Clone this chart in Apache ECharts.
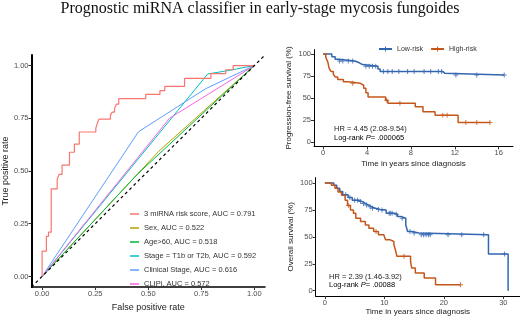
<!DOCTYPE html>
<html>
<head>
<meta charset="utf-8">
<script src="https://cdn.jsdelivr.net/npm/echarts@6/dist/echarts.min.js"></script>
<style>html,body{margin:0;padding:0;background:#fff}#main{width:520px;height:317px}</style>
</head>
<body>
<div id="main"></div>
<script>
// ---- ROC panel: [false positive rate, true positive rate]
var rocNames = ['3 miRNA risk score, AUC = 0.791', 'Sex, AUC = 0.522', 'Age>60, AUC = 0.518',
  'Stage = T1b or T2b, AUC = 0.592', 'Clinical Stage, AUC = 0.616', 'CLIPi, AUC = 0.572'];
var rocColors = ['#F8766D', '#B79F00', '#00BA38', '#00BFC4', '#619CFF', '#F564E3'];
var rocRisk = [[0,0],[0,0.12],[0.02,0.12],[0.02,0.19],[0.03,0.19],[0.03,0.21],[0.043,0.21],[0.043,0.415],
  [0.071,0.415],[0.071,0.46],[0.08,0.46],[0.08,0.484],[0.094,0.484],[0.094,0.528],[0.129,0.528],[0.129,0.589],
  [0.152,0.589],[0.152,0.627],[0.175,0.627],[0.175,0.685],[0.253,0.685],[0.253,0.703],[0.26,0.703],[0.26,0.726],
  [0.268,0.726],[0.268,0.746],[0.322,0.746],[0.322,0.765],[0.33,0.765],[0.33,0.779],[0.341,0.779],[0.341,0.795],
  [0.35,0.795],[0.35,0.817],[0.361,0.817],[0.361,0.843],[0.488,0.843],[0.488,0.863],[0.555,0.863],[0.555,0.881],
  [0.578,0.881],[0.578,0.901],[0.671,0.901],[0.671,0.939],[0.795,0.939],[0.795,0.962],[0.865,0.962],[0.865,0.98],
  [0.9,0.98],[0.9,1],[1,1]];
var rocSex = [[0,0],[0.55,0.594],[1,1]];
var rocAge = [[0,0],[0.45,0.486],[1,1]];
var rocStage = [[0,0],[0.78,0.96],[0.87,0.975],[1,1]];
var rocClin = [[0,0],[0.454,0.686],[0.77,0.89],[1,1]];
var rocClipi = [[0,0],[0.6,0.75],[1,1]];
var rocTicks = [0, 0.25, 0.5, 0.75, 1];

// ---- Kaplan-Meier: progression-free survival (event times, survival %)
var pfsLowT = [0,0.8,1.1,1.4,2.9,3.3,3.6,5.0,5.2,10.9,11.1,16.5];
var pfsLowS = [100,97,94,92,90,88,86,83,80,78,76,76];
var pfsHighT = [0,0.25,0.43,0.55,0.73,0.94,1.1,1.33,1.85,2.3,3.4,3.7,3.9,4.1,5.7,5.9,8.4,9.1,10.2,12.3,15.2];
var pfsHighS = [100,96,91,84,80,77,74,71,68.5,66.7,64.5,61,56,51,47.5,44,40,34.5,30.5,22.3,22.3];
var pfsLowCens = [1.5,1.8,2.3,2.7,3.9,4.2,4.5,4.8,5.5,5.9,6.3,6.9,7.7,8.3,9.2,9.8,10.5,10.8,12.1,14.0,16.5];
var pfsHighCens = [2.7,5.8,7.0,10.9,11.3,13.0,14.0,15.2];
var pfsTicks = [0, 4, 8, 12, 16];

// ---- Kaplan-Meier: overall survival
var osLowT = [0,1.5,2.0,2.5,3.0,3.9,4.6,5.7,6.3,6.8,7.3,7.8,8.5,9.3,10.3,11.6,12.2,12.7,13.6,13.9,14.6,15.8,27.5,30.8];
var osLowS = [100,98,95,92,89,86.5,84,82.7,81,79.6,78,76.5,75.5,75,71.9,71,69,67.3,61,55,53.5,51.9,34,0];
var osHighT = [0,1.1,1.7,2.2,2.8,3.4,3.8,4.3,4.8,5.2,6.0,6.8,7.4,8.2,9.0,9.9,10.2,11.0,11.6,11.9,12.1,14.4,14.6,15.2,16.7,18.6,22.8];
var osHighS = [100,98,95,91.7,88.6,84,79,75,72,67.3,64.2,61,58,54.9,51.9,50.3,47.2,45.7,42.6,37,32,27,21,16.4,11.7,5.6,5.6];
var osLowCens = [3.5,4.2,5.0,5.5,6.0,6.5,7.0,7.6,8.0,9.0,9.6,10.8,11.0,11.3,12.0,13.0,14.3,15.0,16.2,16.6,17.0,17.4,17.7,20.7,23.0,26.7,30.2];
var osHighCens = [4.0,8.6,13.3,22.8];
var osTicks = [0, 10, 20, 30];
var survTicks = [0, 25, 50, 75, 100];

var blue = '#3466b0', orange = '#c5571b';
var font = 'Liberation Sans, Arial, sans-serif';
var plus = 'path://M4,0H6V4H10V6H6V10H4V6H0V4H4Z';

function pairs(t, s) { return t.map(function (v, i) { return [v, s[i]]; }); }
function levelAt(t, s, x) {
  var v = s[0];
  for (var i = 0; i < t.length; i++) { if (t[i] <= x) v = s[i]; }
  return v;
}
function censMarks(t, s, c) { return c.map(function (x) { return [x, levelAt(t, s, x)]; }); }

function xAx(grid, min, max, ticks, name, gap, fmt, lw) {
  return {
    type: 'value', gridIndex: grid, min: min, max: max,
    name: name, nameLocation: 'middle', nameGap: gap,
    nameTextStyle: { fontFamily: font, fontSize: grid === 0 ? 9 : 8, color: '#222' },
    axisLine: { show: true, onZero: false, lineStyle: { color: '#000', width: lw } },
    axisTick: { show: true, length: 3, customValues: ticks, lineStyle: { color: '#333' } },
    axisLabel: { customValues: ticks, fontFamily: font, fontSize: 7.5, color: '#4d4d4d', margin: 3, formatter: fmt },
    splitLine: { show: false }
  };
}
function yAx(grid, min, max, ticks, name, gap, fmt, lw) {
  var a = xAx(grid, min, max, ticks, name, gap, fmt, lw);
  a.nameRotate = 90;
  return a;
}

var rocData = [rocRisk, rocSex, rocAge, rocStage, rocClin, rocClipi];
var series = rocData.map(function (d, i) {
  return {
    name: rocNames[i], type: 'line', xAxisIndex: 0, yAxisIndex: 0, data: d,
    symbol: 'none', z: i === 0 ? 4 : 3,
    lineStyle: { color: rocColors[i], width: i === 0 ? 1.2 : 1 }, itemStyle: { color: rocColors[i] }
  };
});
series.push({
  name: 'diag', type: 'line', xAxisIndex: 0, yAxisIndex: 0, symbol: 'none', z: 5,
  data: [[-0.05, -0.05], [1.05, 1.05]], lineStyle: { color: '#000', width: 1.2, type: [3, 3] }
});

function km(name, grid, t, s, c, color) {
  series.push({
    name: name, type: 'line', xAxisIndex: grid, yAxisIndex: grid, step: 'end',
    data: pairs(t, s), symbol: plus, symbolSize: 6, showSymbol: false,
    lineStyle: { color: color, width: 1.5 }, itemStyle: { color: color }
  });
  series.push({
    name: name + ' censored', type: 'scatter', xAxisIndex: grid, yAxisIndex: grid,
    data: censMarks(t, s, c), symbol: plus, symbolSize: 5, itemStyle: { color: color }
  });
}
km('Low-risk', 1, pfsLowT, pfsLowS, pfsLowCens, blue);
km('High-risk', 1, pfsHighT, pfsHighS, pfsHighCens, orange);
km('Low-risk', 2, osLowT, osLowS, osLowCens, blue);
km('High-risk', 2, osHighT, osHighS, osHighCens, orange);

function fmt2(v) { return v.toFixed(2); }
function fmt0(v) { return String(v); }

var chart = echarts.init(document.getElementById('main'));
chart.setOption({
  animation: false,
  backgroundColor: '#fff',
  title: {
    text: 'Prognostic miRNA classifier in early-stage mycosis fungoides',
    left: 'center', top: 1, padding: 0,
    textStyle: { fontFamily: 'Liberation Serif, Times New Roman, serif', fontSize: 16, fontWeight: 'normal', color: '#111' }
  },
  legend: [{
    data: rocNames, orient: 'vertical', left: 130, top: 208, padding: 0,
    icon: 'rect', itemWidth: 9, itemHeight: 1.5, itemGap: 2,
    textStyle: { fontFamily: font, fontSize: 7.5, color: '#333', lineHeight: 12 }
  }, {
    data: ['Low-risk', 'High-risk'], left: 378, top: 44, padding: 0,
    itemWidth: 13, itemHeight: 6, itemGap: 7,
    textStyle: { fontFamily: font, fontSize: 7, color: '#333', lineHeight: 10 }
  }],
  grid: [
    { left: 29, top: 55, width: 236, height: 241 },
    { left: 314, top: 49.6, width: 199, height: 96.8 },
    { left: 315.6, top: 177.6, width: 206, height: 118.8 }
  ],
  xAxis: [
    xAx(0, -0.05, 1.05, rocTicks, 'False positive rate', 16, fmt2, 1.5),
    xAx(1, -0.825, 17.3, pfsTicks, 'Time in years since diagnosis', 13, fmt0, 1),
    xAx(2, -1.56, 32.8, osTicks, 'Time in years since diagnosis', 5, fmt0, 1)
  ],
  yAxis: [
    yAx(0, -0.05, 1.05, rocTicks, 'True positive rate', 11, fmt2, 2),
    yAx(1, -5, 105, survTicks, 'Progression-free survival (%)', 21, fmt0, 1),
    yAx(2, -5, 105, survTicks, 'Overall survival (%)', 21, fmt0, 1)
  ],
  graphic: [
    { type: 'text', left: 334, top: 125, style: { text: 'HR = 4.45 (2.08-9.54)', font: '7.5px ' + font, fill: '#222' } },
    { type: 'text', left: 334, top: 134, style: { text: '{a|Log-rank }{b|P}{a|= .000065}',
      rich: { a: { fontFamily: font, fontSize: 7.5, color: '#222' }, b: { fontFamily: font, fontSize: 7.5, fontStyle: 'italic', color: '#222' } } } },
    { type: 'text', left: 329, top: 273, style: { text: 'HR = 2.39 (1.46-3.92)', font: '7.5px ' + font, fill: '#222' } },
    { type: 'text', left: 329, top: 280.5, style: { text: '{a|Log-rank }{b|P}{a|= .00088}',
      rich: { a: { fontFamily: font, fontSize: 7.5, color: '#222' }, b: { fontFamily: font, fontSize: 7.5, fontStyle: 'italic', color: '#222' } } } }
  ],
  series: series
});
</script>
</body>
</html>
